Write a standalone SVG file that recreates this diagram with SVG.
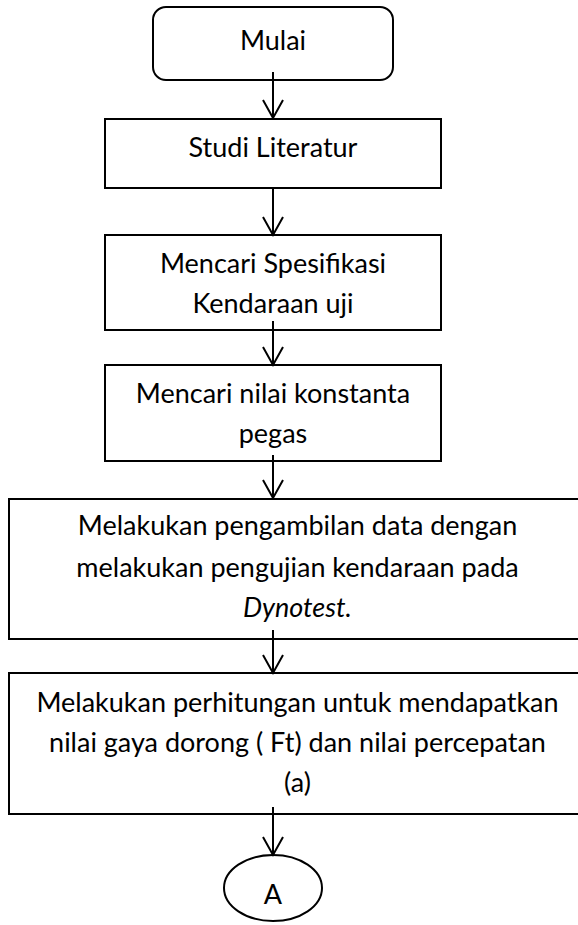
<svg xmlns="http://www.w3.org/2000/svg" width="578" height="925" viewBox="0 0 578 925">
<style>
.box{fill:#fff;stroke:#000;stroke-width:2}
.t{font-family:Lato,"Liberation Sans",sans-serif;font-size:27px;fill:#000;text-anchor:middle}
.c{stroke:#000;stroke-width:2;fill:none}
</style>
<defs>
<marker id="arr" markerUnits="userSpaceOnUse" markerWidth="20" markerHeight="22" refX="18" refY="11" orient="auto" overflow="visible">
<path d="M0,1 L18,11 L0,21" fill="none" stroke="#000" stroke-width="2"/>
</marker>
</defs>
<rect width="578" height="925" fill="#fff"/>
<g id="mulai">
<rect class="box" x="153" y="7" width="240" height="73" rx="13"/>
<text class="t" x="273" y="50">Mulai</text>
</g>
<g id="studi">
<rect class="box" x="105" y="119" width="336" height="69"/>
<text class="t" x="273" y="157">Studi Literatur</text>
</g>
<g id="spesifikasi">
<rect class="box" x="105" y="235" width="336" height="95"/>
<text class="t" x="273" y="273">Mencari Spesifikasi</text>
<text class="t" x="273" y="313">Kendaraan uji</text>
</g>
<g id="konstanta">
<rect class="box" x="105" y="365" width="336" height="96"/>
<text class="t" x="273" y="403">Mencari nilai konstanta</text>
<text class="t" x="273" y="443">pegas</text>
</g>
<g id="pengambilan">
<rect class="box" x="9" y="499" width="578" height="140"/>
<text class="t" x="297.5" y="535">Melakukan pengambilan data dengan</text>
<text class="t" x="297.5" y="577">melakukan pengujian kendaraan pada</text>
<text class="t" x="297.5" y="617" font-style="italic">Dynotest.</text>
</g>
<g id="perhitungan">
<rect class="box" x="9" y="673" width="578" height="141"/>
<text class="t" x="297.5" y="712">Melakukan perhitungan untuk mendapatkan</text>
<text class="t" x="297.5" y="752">nilai gaya dorong ( Ft) dan nilai percepatan</text>
<text class="t" x="297.5" y="792">(a)</text>
</g>
<g id="connector-a">
<ellipse class="box" cx="273" cy="888" rx="49" ry="33"/>
<text class="t" x="273" y="904">A</text>
</g>
<g id="connectors">
<line class="c" x1="273" y1="72" x2="273" y2="118" marker-end="url(#arr)"/>
<line class="c" x1="273" y1="189" x2="273" y2="235" marker-end="url(#arr)"/>
<line class="c" x1="273" y1="321" x2="273" y2="365" marker-end="url(#arr)"/>
<line class="c" x1="273" y1="455" x2="273" y2="498" marker-end="url(#arr)"/>
<line class="c" x1="273" y1="630" x2="273" y2="673" marker-end="url(#arr)"/>
<line class="c" x1="273" y1="807" x2="273" y2="855" marker-end="url(#arr)"/>
</g>
</svg>
